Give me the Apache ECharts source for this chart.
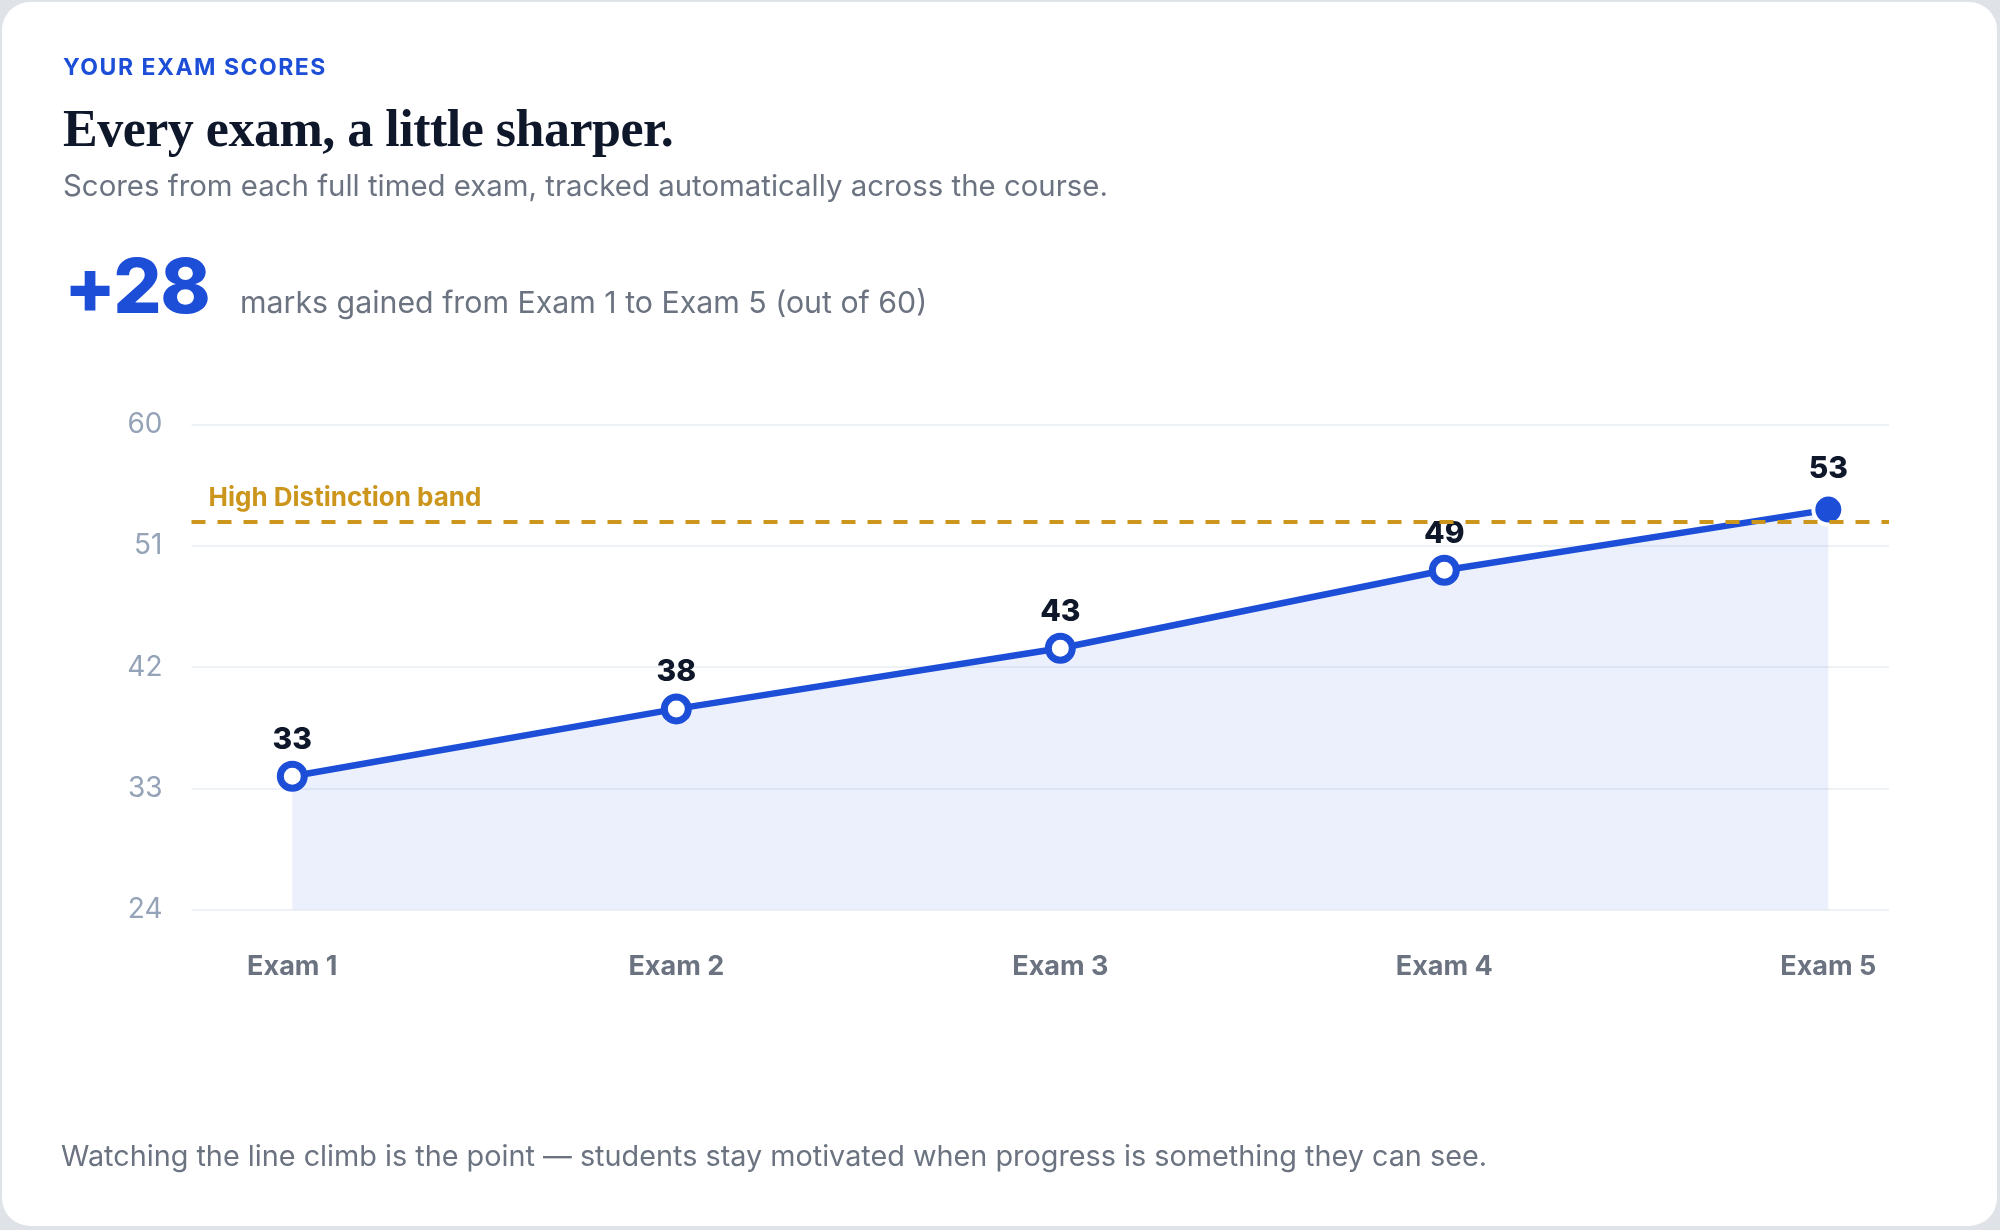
<!DOCTYPE html>
<html>
<head>
<meta charset="utf-8">
<script src="https://cdn.jsdelivr.net/npm/echarts@6/dist/echarts.min.js"></script>
<style>
  html, body { margin: 0; padding: 0; }
  body { width: 2000px; height: 1230px; background: #dfe3e8; position: relative; overflow: hidden; font-family: Inter, "Noto Sans", sans-serif; }
  .card { position: absolute; left: 2px; top: 2px; width: 1995px; height: 1224px; background: #fff; border-radius: 28px; }
  .t { position: absolute; white-space: nowrap; line-height: 1; z-index: 2; }
  #eyebrow { left: 63px; top: 56px; font-size: 23px; font-weight: 700; color: #1d4ed8; letter-spacing: 1.5px; }
  #title { left: 63px; top: 103px; font-family: "Liberation Serif", serif; font-size: 52px; font-weight: 700; color: #0f172a; letter-spacing: -0.5px; }
  #sub { left: 63px; top: 171px; font-size: 29.4px; color: #6b7280; }
  #big { left: 64px; top: 247px; font-size: 76px; font-weight: 800; color: #1d4ed8; letter-spacing: -1.5px; }
  #bigNote { left: 240px; top: 287px; font-size: 30.3px; color: #6b7280; }
  #foot { left: 61px; top: 1142px; font-size: 28.8px; color: #6b7280; }
  #chart { position: absolute; left: 0; top: 0; width: 2000px; height: 1230px; z-index: 1; }
</style>
</head>
<body>
<div class="card"></div>
<div class="t" id="eyebrow">YOUR EXAM SCORES</div>
<div class="t" id="title">Every exam, a little sharper.</div>
<div class="t" id="sub">Scores from each full timed exam, tracked automatically across the course.</div>
<div class="t" id="big">+28</div>
<div class="t" id="bigNote">marks gained from Exam 1 to Exam 5 (out of 60)</div>
<div id="chart"></div>
<div class="t" id="foot">Watching the line climb is the point — students stay motivated when progress is something they can see.</div>

<script>
// data
var exams = ['Exam 1', 'Exam 2', 'Exam 3', 'Exam 4', 'Exam 5'];
var scores = [33.9, 38.9, 43.4, 49.2, 53.7];
var bandValue = 52.8;
var bandName = 'High Distinction band';
var yMin = 24, yMax = 60, yStep = 9;

var blue = '#1d4ed8';
var gold = '#cc951b';

var myChart = echarts.init(document.getElementById('chart'));

var points = scores.map(function (v, i) {
    if (i === scores.length - 1) {
        return {
            value: [i, v],
            symbolSize: 30,
            itemStyle: { color: blue, borderColor: '#fff', borderWidth: 4 },
            label: { distance: 9 }
        };
    }
    return { value: [i, v] };
});

var option = {
    animation: false,
    grid: { left: 191.5, right: 111, top: 424.8, bottom: 320.5 },
    xAxis: {
        type: 'value',
        min: -0.2625,
        max: 4.158,
        axisLine: { show: false },
        axisTick: { show: false },
        splitLine: { show: false },
        axisLabel: {
            customValues: [0, 1, 2, 3, 4],
            formatter: function (v) { return exams[Math.round(v)]; },
            margin: 44,
            fontFamily: 'Inter',
            fontSize: 27,
            fontWeight: 700,
            color: '#6b7280'
        }
    },
    yAxis: {
        type: 'value',
        min: yMin,
        max: yMax,
        interval: yStep,
        axisLine: { show: false },
        axisTick: { show: false },
        splitLine: { lineStyle: { color: '#eef1f5', width: 2 } },
        axisLabel: {
            margin: 29,
            fontFamily: 'Inter',
            fontSize: 28,
            color: '#94a3b8'
        }
    },
    series: [
        {
            type: 'line',
            data: points,
            symbol: 'circle',
            symbolSize: 24,
            lineStyle: { color: blue, width: 6.5 },
            itemStyle: { color: '#fff', borderColor: blue, borderWidth: 7 },
            areaStyle: { color: 'rgba(29,78,216,0.12)', origin: 'start' },
            label: {
                show: true,
                position: 'top',
                distance: 6,
                formatter: function (p) { return Math.floor(p.value[1]); },
                fontFamily: 'Inter',
                fontSize: 30,
                fontWeight: 800,
                color: '#0f172a'
            },
            emphasis: { disabled: true },
            markLine: {
                silent: true,
                symbol: 'none',
                lineStyle: { color: gold, width: 4, type: [14, 12] },
                label: {
                    position: 'insideStartTop',
                    formatter: bandName,
                    distance: [17, 11],
                    fontFamily: 'Inter',
                    fontSize: 26,
                    fontWeight: 700,
                    color: gold
                },
                data: [{ yAxis: bandValue }]
            }
        }
    ]
};

myChart.setOption(option);
</script>
</body>
</html>
